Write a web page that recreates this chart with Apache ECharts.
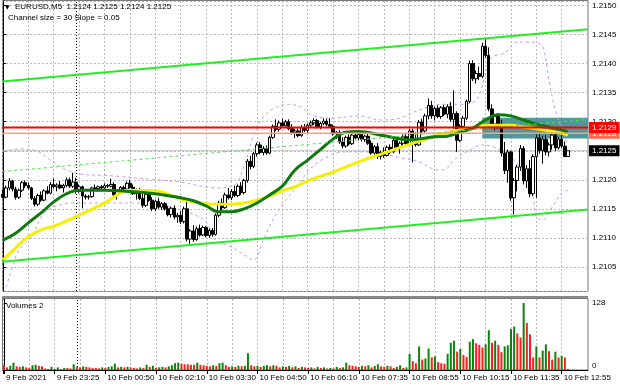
<!DOCTYPE html>
<html><head><meta charset="utf-8">
<script src="https://cdn.jsdelivr.net/npm/echarts@6/dist/echarts.min.js"></script>
<style>html,body{margin:0;padding:0;background:#fff}#c{width:620px;height:388px}</style>
</head><body><div id="c"></div>
<script>
// ---- price bars (EURUSD M5), one entry per bar ----
const openP = [
1.21175,1.21170,1.21186,1.21198,1.21184,1.21170,1.21182,1.21195,
1.21190,1.21186,1.21168,1.21158,1.21173,1.21165,1.21181,1.21177,
1.21192,1.21188,1.21191,1.21186,1.21190,1.21200,1.21189,1.21196,
1.21180,1.21188,1.21172,1.21170,1.21171,1.21186,1.21185,1.21188,
1.21186,1.21190,1.21189,1.21192,1.21174,1.21181,1.21187,1.21184,
1.21194,1.21187,1.21176,1.21182,1.21168,1.21156,1.21175,1.21165,
1.21150,1.21163,1.21153,1.21159,1.21150,1.21140,1.21151,1.21136,
1.21139,1.21128,1.21150,1.21098,1.21112,1.21097,1.21116,1.21105,
1.21118,1.21104,1.21113,1.21106,1.21139,1.21160,1.21152,1.21174,
1.21169,1.21180,1.21173,1.21189,1.21178,1.21199,1.21232,1.21223,
1.21245,1.21260,1.21247,1.21254,1.21246,1.21273,1.21292,1.21287,
1.21298,1.21293,1.21300,1.21288,1.21281,1.21284,1.21276,1.21290,
1.21285,1.21294,1.21298,1.21302,1.21291,1.21297,1.21301,1.21295,
1.21292,1.21279,1.21282,1.21265,1.21258,1.21273,1.21262,1.21277,
1.21272,1.21278,1.21269,1.21275,1.21263,1.21246,1.21257,1.21240,
1.21247,1.21242,1.21256,1.21248,1.21268,1.21256,1.21263,1.21274,
1.21262,1.21284,1.21270,1.21260,1.21299,1.21284,1.21310,1.21328,
1.21310,1.21323,1.21309,1.21324,1.21313,1.21326,1.21304,1.21314,
1.21268,1.21292,1.21306,1.21335,1.21400,1.21374,1.21383,1.21378,
1.21430,1.21414,1.21322,1.21296,1.21309,1.21292,1.21246,1.21216,
1.21248,1.21169,1.21199,1.21222,1.21254,1.21198,1.21219,1.21176,
1.21240,1.21272,1.21250,1.21270,1.21248,1.21260,1.21277,1.21255,
1.21270,1.21258,1.21240];
const highP = [
1.21183,1.21190,1.21203,1.21200,1.21188,1.21185,1.21198,1.21199,
1.21195,1.21188,1.21172,1.21176,1.21180,1.21184,1.21189,1.21196,
1.21202,1.21194,1.21198,1.21193,1.21204,1.21204,1.21212,1.21203,
1.21192,1.21190,1.21175,1.21174,1.21188,1.21192,1.21190,1.21191,
1.21194,1.21193,1.21202,1.21196,1.21184,1.21189,1.21190,1.21197,
1.21200,1.21192,1.21185,1.21186,1.21176,1.21178,1.21183,1.21170,
1.21166,1.21169,1.21162,1.21162,1.21155,1.21154,1.21156,1.21143,
1.21146,1.21154,1.21163,1.21115,1.21122,1.21120,1.21123,1.21121,
1.21120,1.21116,1.21117,1.21142,1.21164,1.21168,1.21178,1.21186,
1.21184,1.21190,1.21192,1.21196,1.21202,1.21236,1.21241,1.21248,
1.21264,1.21265,1.21258,1.21259,1.21276,1.21295,1.21304,1.21302,
1.21305,1.21303,1.21304,1.21296,1.21288,1.21289,1.21294,1.21296,
1.21297,1.21302,1.21306,1.21305,1.21300,1.21306,1.21305,1.21306,
1.21295,1.21284,1.21285,1.21273,1.21276,1.21278,1.21280,1.21284,
1.21282,1.21280,1.21278,1.21279,1.21268,1.21260,1.21263,1.21250,
1.21256,1.21259,1.21261,1.21272,1.21274,1.21266,1.21278,1.21279,
1.21288,1.21288,1.21282,1.21303,1.21305,1.21314,1.21340,1.21336,
1.21326,1.21328,1.21327,1.21329,1.21330,1.21334,1.21354,1.21318,
1.21296,1.21310,1.21338,1.21405,1.21406,1.21388,1.21395,1.21436,
1.21444,1.21428,1.21330,1.21312,1.21315,1.21303,1.21265,1.21252,
1.21250,1.21203,1.21226,1.21260,1.21258,1.21225,1.21234,1.21244,
1.21278,1.21280,1.21276,1.21278,1.21264,1.21282,1.21280,1.21274,
1.21278,1.21266,1.21250];
const lowP = [
1.21168,1.21168,1.21182,1.21180,1.21166,1.21167,1.21179,1.21186,
1.21183,1.21165,1.21154,1.21155,1.21162,1.21163,1.21175,1.21175,
1.21185,1.21180,1.21184,1.21178,1.21187,1.21186,1.21186,1.21176,
1.21177,1.21151,1.21166,1.21166,1.21169,1.21182,1.21180,1.21183,
1.21184,1.21186,1.21187,1.21170,1.21166,1.21179,1.21182,1.21182,
1.21185,1.21174,1.21166,1.21165,1.21152,1.21153,1.21162,1.21146,
1.21146,1.21150,1.21148,1.21147,1.21137,1.21135,1.21132,1.21126,
1.21124,1.21125,1.21094,1.21090,1.21093,1.21095,1.21102,1.21103,
1.21101,1.21100,1.21102,1.21104,1.21136,1.21148,1.21150,1.21166,
1.21165,1.21170,1.21170,1.21174,1.21175,1.21195,1.21218,1.21220,
1.21240,1.21244,1.21242,1.21243,1.21244,1.21270,1.21284,1.21283,
1.21290,1.21289,1.21285,1.21278,1.21272,1.21273,1.21274,1.21282,
1.21280,1.21290,1.21294,1.21288,1.21287,1.21294,1.21292,1.21289,
1.21276,1.21270,1.21262,1.21254,1.21255,1.21259,1.21260,1.21270,
1.21268,1.21266,1.21265,1.21260,1.21243,1.21242,1.21236,1.21235,
1.21238,1.21240,1.21244,1.21246,1.21253,1.21245,1.21260,1.21258,
1.21259,1.21230,1.21257,1.21258,1.21280,1.21281,1.21304,1.21305,
1.21302,1.21306,1.21305,1.21310,1.21306,1.21300,1.21288,1.21248,
1.21265,1.21287,1.21303,1.21332,1.21370,1.21366,1.21372,1.21375,
1.21410,1.21318,1.21290,1.21285,1.21288,1.21240,1.21210,1.21195,
1.21164,1.21140,1.21180,1.21215,1.21192,1.21186,1.21170,1.21172,
1.21169,1.21245,1.21228,1.21242,1.21240,1.21252,1.21250,1.21252,
1.21254,1.21242,1.21240];
const closeP = [
1.21170,1.21186,1.21198,1.21184,1.21170,1.21182,1.21195,1.21190,
1.21186,1.21168,1.21158,1.21173,1.21165,1.21181,1.21177,1.21192,
1.21188,1.21191,1.21186,1.21190,1.21200,1.21189,1.21196,1.21180,
1.21188,1.21172,1.21170,1.21171,1.21186,1.21185,1.21188,1.21186,
1.21190,1.21189,1.21192,1.21174,1.21181,1.21187,1.21184,1.21194,
1.21187,1.21176,1.21182,1.21168,1.21156,1.21175,1.21165,1.21150,
1.21163,1.21153,1.21159,1.21150,1.21140,1.21151,1.21136,1.21139,
1.21128,1.21150,1.21098,1.21112,1.21097,1.21116,1.21105,1.21118,
1.21104,1.21113,1.21106,1.21139,1.21160,1.21152,1.21174,1.21169,
1.21180,1.21173,1.21189,1.21178,1.21199,1.21232,1.21223,1.21245,
1.21260,1.21247,1.21254,1.21246,1.21273,1.21292,1.21287,1.21298,
1.21293,1.21300,1.21288,1.21281,1.21284,1.21276,1.21290,1.21285,
1.21294,1.21298,1.21302,1.21291,1.21297,1.21301,1.21295,1.21292,
1.21279,1.21282,1.21265,1.21258,1.21273,1.21262,1.21277,1.21272,
1.21278,1.21269,1.21275,1.21263,1.21246,1.21257,1.21240,1.21247,
1.21242,1.21256,1.21248,1.21268,1.21256,1.21263,1.21274,1.21262,
1.21284,1.21270,1.21260,1.21299,1.21284,1.21310,1.21328,1.21310,
1.21323,1.21309,1.21324,1.21313,1.21326,1.21304,1.21314,1.21268,
1.21292,1.21306,1.21335,1.21400,1.21374,1.21383,1.21378,1.21430,
1.21414,1.21322,1.21296,1.21309,1.21292,1.21246,1.21216,1.21248,
1.21169,1.21199,1.21222,1.21254,1.21198,1.21219,1.21176,1.21240,
1.21272,1.21250,1.21270,1.21248,1.21260,1.21277,1.21255,1.21270,
1.21258,1.21240,1.21250];
const volumes = [
9,5,8,14,7,6,7,5, 4,9,10,8,7,3,2,6, 2,5,2,4,4,3,11,6, 5,7,6,5,4,4,3,5,
4,6,7,12,5,6,5,6, 5,4,3,5,4,10,6,8, 4,5,6,5,7,9,13,14, 12,11,11,10,10,14,10,9,
8,7,9,8,13,14,9,6, 7,6,8,7,8,32,9,7, 8,6,8,9,7,9,8,5, 7,6,8,5,7,4,6,5,
4,5,3,6,4,5,3,4, 3,6,4,5,14,9,8,7, 6,8,7,9,5,8,11,7, 6,8,7,4,6,9,4,5,
31,17,13,45,20,22,41,24, 26,15,13,12,31,52,56,35, 40,29,25,54,59,51,48,43,
49,76,52,56,48,34,45,47, 78,83,70,62,128,90,68,24, 45,24,37,49,36,20,35,24,
27,24,2];

// ---- indicator readings (bar index, price) ----
const maIdx = [0,4,8,12,16,20,24,32,40,48,56,60,64,68,72,76,80,84,88,92,96,100,104,108,112,120,128,136,140,144,148,152,156,160,164,168,172,176,178];
const maGreen = [1.21096,1.21108,1.21126,1.21143,1.21162,1.21176,1.21182,1.21182,1.21180,1.21176,1.21169,1.21164,1.21155,1.21145,1.21145,1.21150,1.21160,1.21174,1.21189,1.21217,1.21234,1.21252,1.21270,1.21282,1.21283,1.21276,1.21269,1.21274,1.21275,1.21282,1.21289,1.21303,1.21312,1.21310,1.21303,1.21296,1.21291,1.21286,1.21282];
const maYellow = [1.21062,1.21083,1.21102,1.21114,1.21120,1.21129,1.21139,1.21160,1.21182,1.21181,1.21167,1.21162,1.21159,1.21158,1.21158,1.21160,1.21165,1.21172,1.21181,1.21188,1.21198,1.21206,1.21213,1.21222,1.21231,1.21246,1.21261,1.21275,1.21281,1.21286,1.21289,1.21294,1.21294,1.21294,1.21291,1.21288,1.21284,1.21280,1.21277];
const bandUpIdx = [0,5,10,15,20,24,34,46,56,67,73,76,79,82,86,90,94,97,103,112,119,125,131,138,144,149,152,154,158,162,167,170,172,174,177,178];
const bandUpVal = [1.21248,1.21253,1.21251,1.21234,1.21217,1.21210,1.21207,1.21201,1.21196,1.21186,1.21191,1.21225,1.21277,1.21308,1.21325,1.21330,1.21325,1.21312,1.21306,1.21310,1.21303,1.21306,1.21320,1.21330,1.21330,1.21337,1.21380,1.21411,1.21418,1.21437,1.21437,1.21429,1.21372,1.21320,1.21274,1.21260];
const bandLoIdx = [1,3,5,9,13,18,23,31,46,54,59,64,67,72,76,79,82,85,88,93,97,102,107,116,125,131,137,139,142,147,151,157,161,164,167,168,170,173,176,178];
const bandLoVal = [1.21015,1.21050,1.21079,1.21102,1.21143,1.21157,1.21160,1.21160,1.21160,1.21151,1.21143,1.21127,1.21096,1.21084,1.21071,1.21062,1.21096,1.21131,1.21157,1.21191,1.21220,1.21239,1.21248,1.21248,1.21238,1.21231,1.21217,1.21217,1.21234,1.21251,1.21260,1.21251,1.21234,1.21212,1.21170,1.21136,1.21131,1.21153,1.21177,1.21182];
// regression channel: ends at left and right edges of the chart
const edgeIdx = [-0.3, 184.3];
const channelUpper = [1.21369, 1.21459];
const channelMid = [1.21214, 1.21304];
const channelLower = [1.21059, 1.21149];
// horizontal levels & zone
const levelRed = 1.2129, levelSalmon = 1.2128, bidPrice = 1.2125;
const zoneFromBar = 151, zoneTop = 1.21307, zoneBottom = 1.21271;
const daySeparatorBar = 23;
// time axis labels
const xLabelBars = [0,16,32,48,64,80,96,112,128,144,160,176];
const xLabels = ['9 Feb 2021','9 Feb 23:25','10 Feb 00:50','10 Feb 02:10','10 Feb 03:30','10 Feb 04:50','10 Feb 06:10','10 Feb 07:35','10 Feb 08:55','10 Feb 10:15','10 Feb 11:35','10 Feb 12:55'];
const volMaxLabel = 128;

const FONT = "'Liberation Sans',Arial,sans-serif";
const FS = 8;
const pair = (a, b) => a.map((v, i) => [v, b[i]]);
const flat = (v) => edgeIdx.map(x => [x, v]);
const candleData = openP.map((o, i) => [i, o, closeP[i], lowP[i], highP[i]]);
const volData = volumes.map((v, i) => ({
  value: [i, v],
  itemStyle: { color: (i > 0 && v > volumes[i - 1]) ? '#0b840b' : '#ff1c1c' }
}));
const gridLine = { show: true, lineStyle: { color: '#b9b9b9', type: [2, 2], width: 1 } };
const priceBox = (txt, bg) => ({ show: true, distance: 1, formatter: txt, color: '#fff',
  backgroundColor: bg, padding: [2, 3, 1, 3], fontSize: FS, fontFamily: FONT });

const chart = echarts.init(document.getElementById('c'), null, { renderer: 'canvas' });
chart.setOption({
  animation: false,
  backgroundColor: '#ffffff',
  textStyle: { fontFamily: FONT },
  grid: [
    { left: 2, top: 1, width: 586, height: 290 },
    { left: 2, top: 299, width: 586, height: 71 }
  ],
  xAxis: [
    { type: 'value', gridIndex: 0, min: -0.3, max: 184.3, minInterval: 8, maxInterval: 8,
      axisLine: { show: false }, axisTick: { show: false }, axisLabel: { show: false },
      splitLine: gridLine },
    { type: 'value', gridIndex: 1, min: -0.3, max: 184.3, minInterval: 16, maxInterval: 16,
      axisLine: { show: true, onZero: false, lineStyle: { color: '#000', width: 1 } },
      axisTick: { show: true, length: 4, lineStyle: { color: '#000' } },
      minorTick: { show: false, splitNumber: 2 },
      minorSplitLine: gridLine,
      splitLine: gridLine,
      axisLabel: {
        show: true, align: 'left', margin: 4, fontSize: FS, color: '#000', fontFamily: FONT,
        padding: [0, 0, 0, 2], showMinLabel: true, showMaxLabel: false,
        formatter: v => { const r = Math.round(v); const k = xLabelBars.indexOf(r); return (Math.abs(v - r) < 1e-6 && k >= 0) ? xLabels[k] : ''; }
      } }
  ],
  yAxis: [
    { type: 'value', gridIndex: 0, position: 'right', min: 1.2100861, max: 1.2150775,
      minInterval: 0.0005, maxInterval: 0.0005, scale: true,
      axisLine: { show: true, lineStyle: { color: '#000', width: 1 } },
      axisTick: { show: true, length: 3, lineStyle: { color: '#000' } },
      axisLabel: { show: true, margin: 4, fontSize: FS, color: '#000', fontFamily: FONT,
        showMinLabel: false, showMaxLabel: false, formatter: v => v.toFixed(4) },
      splitLine: gridLine },
    { type: 'value', gridIndex: 1, position: 'right', min: 0, max: 135.6,
      minInterval: volMaxLabel, maxInterval: volMaxLabel,
      axisLine: { show: true, lineStyle: { color: '#000', width: 1 } },
      axisTick: { show: true, length: 3, lineStyle: { color: '#000' } },
      axisLabel: { show: true, margin: 4, fontSize: FS, color: '#000', fontFamily: FONT,
        showMinLabel: true, showMaxLabel: false,
        formatter: v => v === 0 ? '{lo|0}' : String(Math.round(v)),
        rich: { lo: { fontSize: FS, fontFamily: FONT, color: '#000', padding: [0, 0, 8, 0] } } },
      splitLine: { show: false } }
  ],
  graphic: [
    { type: 'rect', z: 0, silent: true, shape: { x: 2.5, y: 0.5, width: 585.5, height: 291 },
      style: { fill: null, stroke: '#7a7a7a', lineWidth: 1 } },
    { type: 'rect', z: 0, silent: true, shape: { x: 2, y: 296, width: 586, height: 3 },
      style: { fill: '#8a8a8a' } },
    { type: 'rect', z: 0, silent: true, shape: { x: 2.5, y: 298.5, width: 585.5, height: 71.5 },
      style: { fill: null, stroke: '#7a7a7a', lineWidth: 1 } },
    { type: 'text', z: 100, left: 5, top: 4, style: { text: '▼', font: '6px "DejaVu Sans"', fill: '#000' } },
    { type: 'text', z: 100, left: 15, top: 3, style: { text: 'EURUSD,M5  1.2124 1.2125 1.2124 1.2125', font: FS + 'px ' + FONT, fill: '#000' } },
    { type: 'text', z: 100, left: 8, top: 14, style: { text: 'Channel size = 30 Slope = 0.05', font: FS + 'px ' + FONT, fill: '#000' } },
    { type: 'text', z: 100, left: 6, top: 302, style: { text: 'Volumes 2', font: FS + 'px ' + FONT, fill: '#000' } }
  ],
  series: [
    { name: 'zone', type: 'line', xAxisIndex: 0, yAxisIndex: 0, z: 1, data: [], silent: true,
      markArea: { silent: true, itemStyle: { color: '#4f989c', opacity: 1 },
        data: [[{ xAxis: zoneFromBar, yAxis: zoneTop }, { xAxis: 184.3, yAxis: zoneBottom }]] } },
    { name: 'bid', type: 'line', xAxisIndex: 0, yAxisIndex: 0, z: 2, data: flat(bidPrice), silent: true,
      showSymbol: false, lineStyle: { color: '#c0c0c0', width: 1 },
      endLabel: priceBox(bidPrice.toFixed(4), '#000000') },
    { name: 'bandUp', type: 'line', xAxisIndex: 0, yAxisIndex: 0, z: 3, data: pair(bandUpIdx, bandUpVal),
      smooth: 0.35, showSymbol: false, clip: false, lineStyle: { color: '#c99be6', width: 1, type: [3, 3] } },
    { name: 'bandLo', type: 'line', xAxisIndex: 0, yAxisIndex: 0, z: 3, data: pair(bandLoIdx, bandLoVal),
      smooth: 0.35, showSymbol: false, clip: false, lineStyle: { color: '#c99be6', width: 1, type: [3, 3] } },
    { name: 'price', type: 'candlestick', xAxisIndex: 0, yAxisIndex: 0, z: 5, data: candleData,
      encode: { x: 0, y: [1, 2, 3, 4] }, barWidth: 3, clip: false,
      itemStyle: { color: '#ffffff', color0: '#000000', borderColor: '#000000', borderColor0: '#000000', borderWidth: 1 },
      markLine: { silent: true, symbol: ['none', 'none'], label: { show: false },
        lineStyle: { color: '#000', type: [1, 2], width: 1 }, data: [{ xAxis: daySeparatorBar }] } },
    { name: 'maYellow', type: 'line', xAxisIndex: 0, yAxisIndex: 0, z: 6, data: pair(maIdx, maYellow),
      smooth: 0.4, showSymbol: false, lineStyle: { color: '#f3f000', width: 3 } },
    { name: 'maGreen', type: 'line', xAxisIndex: 0, yAxisIndex: 0, z: 6, data: pair(maIdx, maGreen),
      smooth: 0.4, showSymbol: false, lineStyle: { color: '#0d7a0d', width: 3 } },
    { name: 'chanMid', type: 'line', xAxisIndex: 0, yAxisIndex: 0, z: 7, data: pair(edgeIdx, channelMid),
      showSymbol: false, lineStyle: { color: '#4fe24f', width: 1, type: [3, 3] } },
    { name: 'chanUp', type: 'line', xAxisIndex: 0, yAxisIndex: 0, z: 7, data: pair(edgeIdx, channelUpper),
      showSymbol: false, lineStyle: { color: '#22ee22', width: 2 } },
    { name: 'chanLo', type: 'line', xAxisIndex: 0, yAxisIndex: 0, z: 7, data: pair(edgeIdx, channelLower),
      showSymbol: false, lineStyle: { color: '#22ee22', width: 2 } },
    { name: 'salmon', type: 'line', xAxisIndex: 0, yAxisIndex: 0, z: 8, data: flat(levelSalmon), silent: true,
      showSymbol: false, lineStyle: { color: '#ff9a88', width: 1.5 },
      endLabel: priceBox(levelSalmon.toFixed(4), '#ff6a4a') },
    { name: 'red', type: 'line', xAxisIndex: 0, yAxisIndex: 0, z: 9, data: flat(levelRed), silent: true,
      showSymbol: false, lineStyle: { color: '#ff0000', width: 2 },
      endLabel: priceBox(levelRed.toFixed(4), '#ff0000') },
    { name: 'volume', type: 'bar', xAxisIndex: 1, yAxisIndex: 1, z: 5, data: volData, barWidth: 2,
      markLine: { silent: true, symbol: ['none', 'none'], label: { show: false },
        lineStyle: { color: '#000', type: [1, 2], width: 1 }, data: [{ xAxis: daySeparatorBar }] } }
  ]
});
</script>
</body></html>
